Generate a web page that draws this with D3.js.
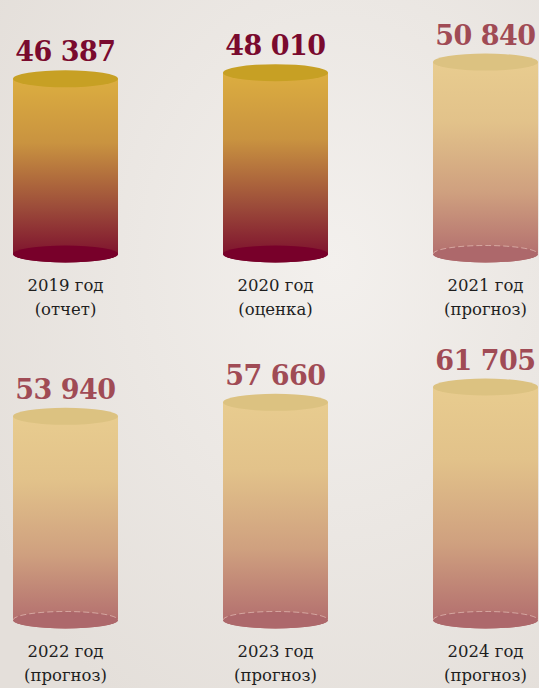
<!DOCTYPE html>
<html>
<head>
<meta charset="utf-8">
<script src="https://cdn.jsdelivr.net/npm/d3@7"></script>
<style>
  html, body { margin: 0; padding: 0; }
  body { width: 539px; height: 688px; overflow: hidden; }
  svg { display: block; }
</style>
</head>
<body>
<svg id="chart" width="539" height="688"></svg>
<script>
// data
const years = ['2019', '2020', '2021', '2022', '2023', '2024'];
const notes = ['отчет', 'оценка', 'прогноз', 'прогноз', 'прогноз', 'прогноз'];
const values = [46387, 48010, 50840, 53940, 57660, 61705];
const kinds = ['actual', 'actual', 'forecast', 'forecast', 'forecast', 'forecast'];

const W = 539, H = 688;
const svg = d3.select('#chart');
const defs = svg.append('defs');

// background
const bg = defs.append('radialGradient').attr('id', 'bg')
  .attr('cx', '62%').attr('cy', '38%').attr('r', '75%');
bg.append('stop').attr('offset', '0%').attr('stop-color', '#f3f0ed');
bg.append('stop').attr('offset', '100%').attr('stop-color', '#e4dfda');
svg.append('rect').attr('width', W).attr('height', H).attr('fill', 'url(#bg)');

const palette = {
  actual: {
    top: '#c7a024', body: [['0%', '#dcae40'], ['35%', '#c99340'], ['70%', '#9c4c3a'], ['100%', '#7a0a2c']],
    bottom: '#78002a', text: '#7a0a2e', rim: null
  },
  forecast: {
    top: '#dcc281', body: [['0%', '#e8cc8f'], ['30%', '#e2c28a'], ['65%', '#cfa07f'], ['100%', '#b06a6d']],
    bottom: '#ad686b', text: '#a04b55', rim: '#f0d2c8'
  }
};
Object.entries(palette).forEach(([k, p]) => {
  const g = defs.append('linearGradient').attr('id', 'body-' + k)
    .attr('x1', 0).attr('y1', 0).attr('x2', 0).attr('y2', 1);
  p.body.forEach(([o, c]) => g.append('stop').attr('offset', o).attr('stop-color', c));
});

const cols = 3;
const x = d3.scaleBand().domain(d3.range(cols)).range([13, 538]).paddingInner(0.5).paddingOuter(0);
const rowBase = d3.scalePoint().domain([0, 1]).range([254, 620]);
const h = d3.scaleLinear().domain([0, d3.max(values)]).range([0, 233]);
const ry = 8.5;

const items = values.map((v, i) => ({
  v, year: years[i], note: notes[i], kind: kinds[i],
  col: i % cols, row: Math.floor(i / cols)
}));

const fmt = v => d3.format(',')(v).replace(/,/g, ' ');

const g = svg.selectAll('g.cyl').data(items).join('g').attr('class', 'cyl')
  .attr('transform', d => `translate(${x(d.col)},${rowBase(d.row)})`);

const bw = x.bandwidth();

g.append('path')
  .attr('d', d => {
    const top = -h(d.v);
    return `M0,${top} L0,0 A${bw / 2},${ry} 0 0 0 ${bw},0 L${bw},${top} Z`;
  })
  .attr('fill', d => `url(#body-${d.kind})`);

g.append('ellipse')
  .attr('cx', bw / 2).attr('cy', 0).attr('rx', bw / 2).attr('ry', ry)
  .attr('fill', d => palette[d.kind].bottom);

g.filter(d => palette[d.kind].rim)
  .append('path')
  .attr('d', `M0,0 A${bw / 2},${ry} 0 0 1 ${bw},0`)
  .attr('fill', 'none')
  .attr('stroke', d => palette[d.kind].rim)
  .attr('stroke-width', 0.8)
  .attr('stroke-dasharray', '6 3')
  .attr('opacity', 0.7);

g.append('ellipse')
  .attr('cx', bw / 2).attr('cy', d => -h(d.v)).attr('rx', bw / 2).attr('ry', ry)
  .attr('fill', d => palette[d.kind].top);

g.append('text')
  .attr('x', bw / 2)
  .attr('y', d => -h(d.v) - ry - 9)
  .attr('text-anchor', 'middle')
  .attr('font-family', '"DejaVu Serif", serif')
  .attr('font-weight', 'bold')
  .attr('font-size', 27)
  .attr('letter-spacing', -0.5)
  .attr('fill', d => palette[d.kind].text)
  .text(d => fmt(d.v));

const lab = g.append('text')
  .attr('text-anchor', 'middle')
  .attr('font-family', '"DejaVu Serif", serif')
  .attr('font-size', 16.5)
  .attr('fill', '#1e1e1e');
lab.append('tspan').attr('x', bw / 2).attr('y', 37).text(d => d.year + ' год');
lab.append('tspan').attr('x', bw / 2).attr('y', 61).text(d => '(' + d.note + ')');
</script>
</body>
</html>
